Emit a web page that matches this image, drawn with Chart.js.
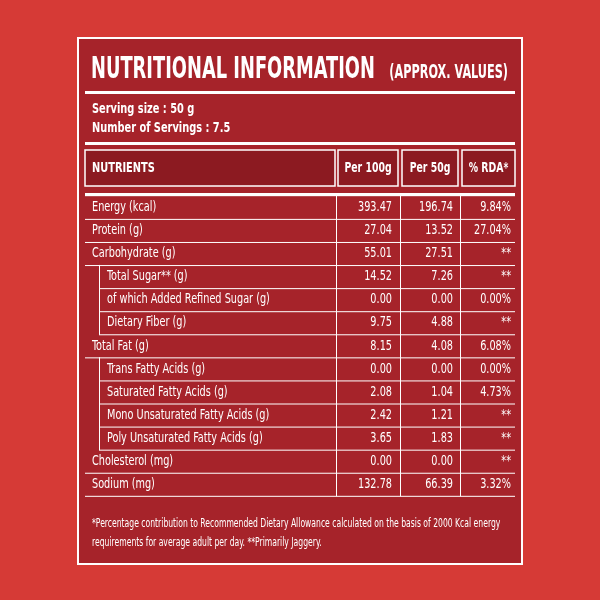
<!DOCTYPE html><html><head><script src="https://cdn.jsdelivr.net/npm/chart.js"></script>
<style>body{margin:0;background:#d63a36}canvas{display:block}</style></head><body>
<div style="width:600px;height:600px"><canvas id="c"></canvas></div>
<script>
const nutrients=["Energy (kcal)","Protein (g)","Carbohydrate (g)","Total Sugar** (g)","of which Added Refined Sugar (g)","Dietary Fiber (g)","Total Fat (g)","Trans Fatty Acids (g)","Saturated Fatty Acids (g)","Mono Unsaturated Fatty Acids (g)","Poly Unsaturated Fatty Acids (g)","Cholesterol (mg)","Sodium (mg)"];
const per100=["393.47","27.04","55.01","14.52","0.00","9.75","8.15","0.00","2.08","2.42","3.65","0.00","132.78"];
const per50=["196.74","13.52","27.51","7.26","0.00","4.88","4.08","0.00","1.04","1.21","1.83","0.00","66.39"];
const rda=["9.84%","27.04%","**","**","0.00%","**","6.08%","0.00%","4.73%","**","**","**","3.32%"];
const sub=[0,0,0,1,1,1,0,1,1,1,1,0,0];
const headers=["NUTRIENTS","Per 100g","Per 50g","% RDA*"];
const F='"DejaVu Sans Condensed","Liberation Sans Narrow","Roboto",sans-serif';
function txt(ctx,s,x,y,size,align,bold,sx){ctx.save();ctx.font=(bold?'bold ':'')+size+'px '+F;ctx.textAlign=align;ctx.textBaseline='middle';ctx.translate(x,y);ctx.scale(sx||0.82,1);ctx.fillText(s,0,0);ctx.restore();}
const table={id:'table',beforeDraw(ch){const c=ch.ctx;c.save();
c.fillStyle='#d63a36';c.fillRect(0,0,600,600);
c.fillStyle='#a6232a';c.fillRect(77,37,446,528);
c.strokeStyle='#fff';c.lineWidth=2;c.strokeRect(78,38,444,526);
c.fillStyle='#fff';
txt(c,'NUTRITIONAL INFORMATION',91,70,31,'left',true,0.64);
txt(c,'(APPROX. VALUES)',508,73,19,'right',true,0.66);
c.fillRect(85,91,430,3);
txt(c,'Serving size : 50 g',92,109,14,'left',true,0.78);
txt(c,'Number of Servings : 7.5',92,128,14,'left',true,0.78);
c.fillRect(85,142,430,3);
const cols=[[85,335],[338,398],[402,458],[462,515]];
c.fillStyle='#8c1a21';cols.forEach(k=>c.fillRect(k[0],150,k[1]-k[0],36));
c.strokeStyle='#fff';c.lineWidth=1.5;cols.forEach(k=>c.strokeRect(k[0],150,k[1]-k[0],36));
c.fillStyle='#fff';
txt(c,headers[0],92,168,14,'left',true,0.78);
[1,2,3].forEach(i=>txt(c,headers[i],(cols[i][0]+cols[i][1])/2,168,14,'center',true,0.74));
c.fillRect(85,193,430,2);
const y=ch.scales.y;const h=23.7;
nutrients.forEach((n,i)=>{const cy=y.getPixelForValue(i);
const x0=sub[i]?99:85;c.fillStyle='#fff';c.fillRect(x0,cy+h/2-0.5,515-x0,1);
txt(c,n,sub[i]?107:92,cy,13.5,'left',false,0.8);
txt(c,per100[i],392,cy,13.5,'right',false,0.8);
txt(c,per50[i],453,cy,13.5,'right',false,0.8);
txt(c,rda[i],511,cy,13.5,'right',false,0.8);
if(sub[i]){c.fillRect(99,cy-h/2,1,h);}
[336,400,460].forEach(x=>c.fillRect(x,cy-h/2,1,h));});
c.fillRect(85,y.getPixelForValue(0)-h/2-1,430,1.5);
txt(c,'*Percentage contribution to Recommended Dietary Allowance calculated on the basis of 2000 Kcal energy',92,524,12,'left',false,0.71);
txt(c,'requirements for average adult per day. **Primarily Jaggery.',92,543,12,'left',false,0.71);
c.restore();}};
new Chart(document.getElementById('c'),{type:'bar',data:{labels:nutrients,datasets:[{data:per100.map(()=>0)}]},
options:{indexAxis:'y',responsive:true,maintainAspectRatio:false,animation:false,
layout:{padding:{top:196,bottom:104,left:85,right:85}},
plugins:{legend:{display:false},tooltip:{enabled:false}},
scales:{x:{display:false},y:{display:false}}},plugins:[table]});
</script></body></html>
